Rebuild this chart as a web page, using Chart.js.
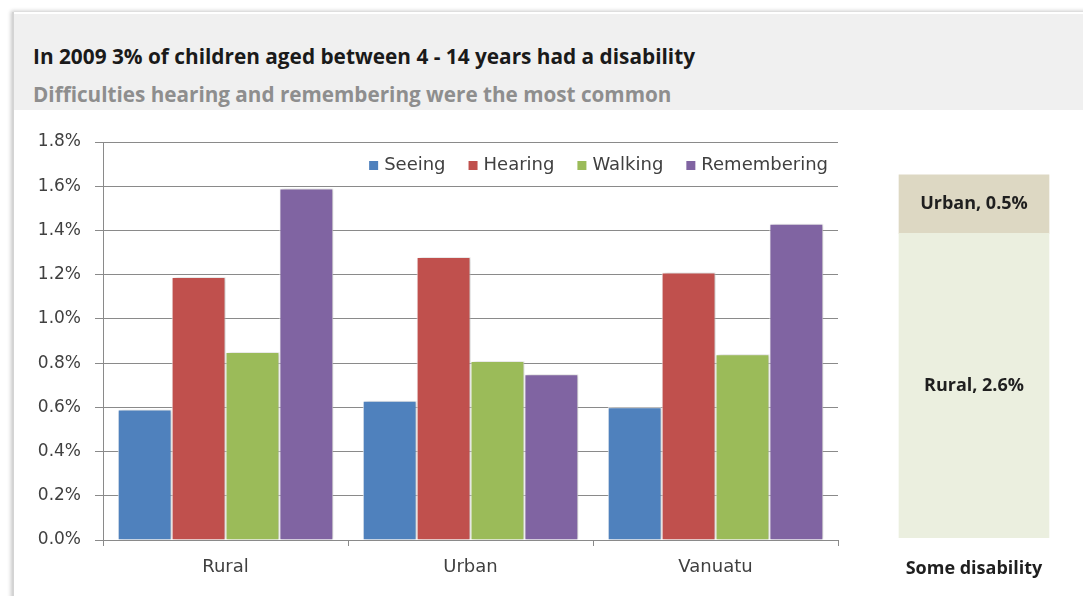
<!DOCTYPE html>
<html>
<head>
<meta charset="utf-8">
<script src="https://cdn.jsdelivr.net/npm/chart.js@4.4.1/dist/chart.umd.min.js"></script>
<style>
body { margin:0; background:#fff; width:1083px; height:596px; overflow:hidden; position:relative; font-family:"Open Sans", sans-serif; }
#frame { position:absolute; left:12px; top:12px; width:1090px; height:600px; background:#fff; border-left:2px solid #d4d4d4; box-shadow:-1px -1px 4px rgba(0,0,0,0.22); }
#head { position:absolute; left:14px; top:14px; right:0; height:96px; background:#f0f0f0; }
#title { position:absolute; left:33px; top:42px; font-weight:bold; font-size:20.8px; color:#1a1a1a; white-space:nowrap; }
#sub { position:absolute; left:33px; top:80px; font-weight:bold; font-size:20.7px; color:#8e8e8e; white-space:nowrap; }
#main { position:absolute; left:0; top:110px; }
#side { position:absolute; left:860px; top:110px; }
</style>
</head>
<body>
<div id="frame"></div>
<div id="head"></div>
<div id="title">In 2009 3% of children aged between 4 - 14 years had a disability</div>
<div id="sub">Difficulties hearing and remembering were the most common</div>
<canvas id="main" width="860" height="486"></canvas>
<canvas id="side" width="223" height="486"></canvas>
<script>
// percent of children with each difficulty
const areas = ['Rural', 'Urban', 'Vanuatu'];
const seeing = [0.59, 0.63, 0.60];
const hearing = [1.19, 1.28, 1.21];
const walking = [0.85, 0.81, 0.84];
const remembering = [1.59, 0.75, 1.43];
const yTicks = [0, 0.2, 0.4, 0.6, 0.8, 1.0, 1.2, 1.4, 1.6, 1.8];

// right hand stacked bar
const shareLabel = ['Some disability'];
const shareRural = [2.6];
const shareUrban = [0.5];

const colors = ['#4f81bd', '#c0504d', '#9bbb59', '#8064a2'];
const gridCol = '#8a8a8a';

const innerLegend = {
  id: 'innerLegend',
  afterDraw(chart) {
    const ctx = chart.ctx;
    ctx.save();
    ctx.font = '18px "DejaVu Sans"';
    ctx.textBaseline = 'middle';
    let x = chart.chartArea.right - 10;
    const y = chart.chartArea.top + 23;
    const sets = chart.data.datasets.slice().reverse();
    sets.forEach(function(ds) {
      const w = ctx.measureText(ds.label).width;
      x -= w;
      ctx.fillStyle = '#404040';
      ctx.fillText(ds.label, x, y);
      ctx.fillStyle = ds.backgroundColor;
      ctx.fillRect(x - 15, y - 4, 9, 9);
      x -= 15 + 23;
    });
    ctx.restore();
  }
};

const barShadow = {
  id: 'barShadow',
  beforeDatasetsDraw(chart) {
    chart.ctx.save();
    chart.ctx.shadowColor = 'rgba(0,0,0,0.22)';
    chart.ctx.shadowBlur = 4;
    chart.ctx.shadowOffsetX = 2;
  },
  afterDatasetsDraw(chart) {
    chart.ctx.restore();
  }
};

const seriesNames = ['Seeing', 'Hearing', 'Walking', 'Remembering'];
const seriesData = [seeing, hearing, walking, remembering];

new Chart(document.getElementById('main'), {
  type: 'bar',
  data: {
    labels: areas,
    datasets: seriesNames.map(function(name, i) {
      return {
        label: name,
        data: seriesData[i],
        backgroundColor: colors[i],
        borderColor: '#ffffff',
        borderWidth: 1,
        categoryPercentage: 0.88,
        barPercentage: 1.0
      };
    })
  },
  options: {
    responsive: false,
    animation: false,
    layout: { padding: { top: 32, right: 22, left: 0, bottom: 0 } },
    plugins: { legend: { display: false }, tooltip: { enabled: false } },
    scales: {
      x: {
        grid: { display: true, drawOnChartArea: false, drawTicks: true, tickLength: 6, color: gridCol, offset: true },
        border: { color: gridCol },
        ticks: { font: { family: 'DejaVu Sans', size: 18 }, color: '#404040', padding: 11 },
        afterFit: function(s) { s.height = 56; }
      },
      y: {
        min: 0,
        max: 1.8,
        afterBuildTicks: function(s) { s.ticks = yTicks.map(function(v) { return { value: v }; }); },
        grid: { color: gridCol, tickLength: 8 },
        border: { color: gridCol },
        ticks: {
          font: { family: 'DejaVu Sans', size: 17 },
          color: '#404040',
          padding: 14,
          callback: function(v) { return v.toFixed(1) + '%'; }
        },
        afterFit: function(s) { s.width = 103; }
      }
    }
  },
  plugins: [innerLegend, barShadow]
});

const segLabels = {
  id: 'segLabels',
  afterDatasetsDraw(chart) {
    const ctx = chart.ctx;
    ctx.save();
    ctx.font = 'bold 18px "Open Sans"';
    ctx.fillStyle = '#1f1f1f';
    ctx.textAlign = 'center';
    ctx.textBaseline = 'middle';
    chart.data.datasets.forEach(function(ds, i) {
      const bar = chart.getDatasetMeta(i).data[0];
      ctx.fillText(ds.label + ', ' + ds.data[0].toFixed(1) + '%', bar.x, (bar.y + bar.base) / 2);
    });
    ctx.restore();
  }
};

new Chart(document.getElementById('side'), {
  type: 'bar',
  data: {
    labels: shareLabel,
    datasets: [
      { label: 'Rural', data: shareRural, backgroundColor: '#ebefdf', barThickness: 150 },
      { label: 'Urban', data: shareUrban, backgroundColor: '#ddd8c3', barThickness: 150 }
    ]
  },
  options: {
    responsive: false,
    animation: false,
    layout: { padding: { top: 32, right: 9, left: 14, bottom: 0 } },
    plugins: { legend: { display: false }, tooltip: { enabled: false } },
    scales: {
      x: {
        stacked: true,
        grid: { display: false },
        border: { display: false },
        ticks: { font: { family: 'Open Sans', size: 18, weight: 'bold' }, color: '#1f1f1f', padding: 12 },
        afterFit: function(s) { s.height = 58; }
      },
      y: { stacked: true, display: false, min: 0, max: 3.38 }
    }
  },
  plugins: [segLabels]
});
</script>
</body>
</html>
